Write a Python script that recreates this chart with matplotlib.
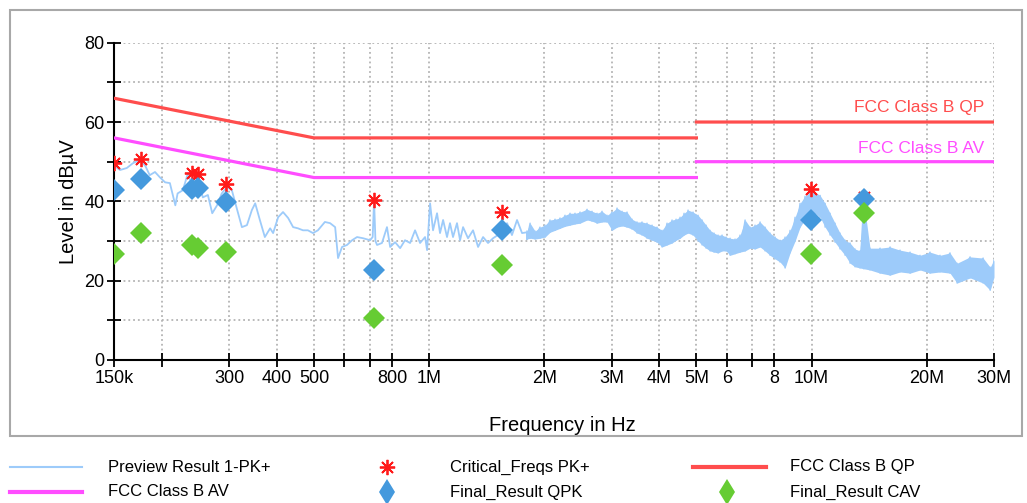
import matplotlib
matplotlib.use("Agg")
import matplotlib.pyplot as plt
import numpy as np
from matplotlib.lines import Line2D
from matplotlib.patches import Rectangle

plt.rcParams['font.family'] = ['Liberation Sans', 'DejaVu Sans']

# preview scan, 150k .. 1.8M (single trace), frequency in MHz, level in dBuV
scan_f = [0.150, 0.1555, 0.162, 0.168, 0.175, 0.181, 0.186, 0.192, 0.198, 0.204,
          0.210, 0.217, 0.220, 0.227, 0.234, 0.241, 0.249, 0.256, 0.264, 0.271,
          0.279, 0.287, 0.296, 0.305, 0.315, 0.324, 0.334, 0.344, 0.351, 0.361,
          0.372, 0.384, 0.391, 0.403, 0.415, 0.428, 0.441, 0.454, 0.468, 0.482,
          0.497, 0.512, 0.534, 0.551, 0.568, 0.578, 0.592, 0.610, 0.629, 0.648,
          0.672, 0.701, 0.712, 0.718, 0.724, 0.731, 0.753, 0.776, 0.791, 0.815,
          0.840, 0.865, 0.892, 0.919, 0.947, 0.976, 0.988, 1.006, 1.024, 1.049,
          1.068, 1.088, 1.114, 1.134, 1.155, 1.183, 1.205, 1.227, 1.264, 1.303,
          1.343, 1.384, 1.426, 1.470, 1.551, 1.599, 1.647, 1.698, 1.750, 1.803]
scan_lvl = [49.0, 47.9, 48.4, 49.6, 50.4, 49.0, 46.6, 47.4, 46.0, 44.8,
            44.6, 39.0, 42.0, 42.8, 47.0, 43.6, 46.0, 41.0, 41.6, 37.0,
            39.0, 42.0, 43.6, 42.8, 37.8, 33.5, 34.0, 37.8, 39.5, 35.3,
            31.0, 33.2, 32.0, 36.0, 37.3, 35.8, 33.5, 33.2, 32.7, 32.7,
            32.0, 32.7, 34.8, 34.5, 33.5, 25.7, 28.5, 29.0, 30.2, 31.0,
            30.7, 30.2, 31.0, 40.3, 30.0, 29.0, 29.5, 33.5, 28.5, 29.7,
            28.2, 30.2, 29.5, 32.7, 29.5, 31.0, 27.7, 39.5, 32.7, 37.0,
            32.0, 35.3, 31.0, 34.5, 31.0, 34.5, 30.2, 33.5, 30.7, 32.7,
            28.5, 31.0, 29.5, 30.7, 32.2, 34.5, 31.5, 35.3, 32.0, 32.2]

# preview scan, 1.8M .. 30M (dense band: upper / lower envelope)
band_f = [1.803, 1.837, 1.893, 1.950, 2.010, 2.071, 2.135, 2.200, 2.267, 2.337,
          2.408, 2.482, 2.589, 2.667, 2.749, 2.833, 2.919, 3.009, 3.101, 3.196,
          3.293, 3.394, 3.497, 3.604, 3.714, 3.828, 3.945, 4.065, 4.190, 4.318,
          4.424, 4.532, 4.642, 4.755, 4.900, 5.050, 5.173, 5.300, 5.429, 5.561,
          5.697, 5.835, 5.978, 6.124, 6.311, 6.504, 6.703, 6.907, 7.118, 7.336,
          7.560, 7.791, 8.029, 8.274, 8.527, 8.788, 9.057, 9.333, 9.618, 9.912,
          10.21, 10.53, 10.85, 11.18, 11.52, 11.87, 12.24, 12.61, 12.99, 13.39,
          13.70, 14.22, 15.11, 16.05, 17.04, 18.10, 19.22, 20.41, 21.68, 23.02,
          24.02, 25.98, 28.10, 29.31, 30.0]
band_hi = [32.5, 34.5, 32.5, 33.5, 34.0, 35.3, 35.5, 35.8, 36.5, 37.0,
           37.0, 37.3, 38.0, 37.5, 37.0, 37.5, 36.5, 37.3, 38.3, 37.5,
           37.3, 35.5, 34.8, 34.8, 34.5, 34.0, 33.5, 32.7, 34.5, 35.3,
           35.5, 36.0, 37.0, 37.8, 37.3, 36.5, 35.3, 34.0, 32.7, 32.0,
           31.5, 31.5, 31.0, 30.7, 30.5, 31.5, 35.3, 33.5, 34.0, 34.8,
           33.5, 32.0, 31.0, 30.2, 31.0, 32.7, 36.0, 39.5, 41.3, 42.3,
           42.3, 41.5, 39.5, 37.0, 34.5, 32.0, 30.2, 29.5, 28.0, 27.5,
           40.0, 28.2, 28.2, 28.5, 27.7, 27.2, 26.4, 27.2, 26.4, 27.0,
           24.4, 26.0, 25.7, 23.4, 25.2]
band_lo = [30.5, 30.7, 30.5, 30.7, 31.0, 32.2, 32.7, 33.2, 33.7, 34.0,
           34.3, 34.5, 35.3, 35.0, 34.5, 34.8, 34.8, 32.7, 33.5, 33.8,
           33.5, 33.0, 32.0, 31.5, 30.7, 30.2, 29.7, 28.5, 29.0, 29.5,
           30.2, 30.7, 31.5, 32.0, 31.5, 30.0, 29.0, 28.2, 27.5, 27.2,
           27.0, 27.5, 27.5, 26.4, 26.8, 27.2, 27.5, 28.2, 28.0, 28.5,
           27.5, 26.4, 25.5, 24.7, 23.2, 27.0, 30.0, 33.5, 35.5, 37.0,
           37.0, 36.0, 33.5, 31.5, 29.7, 28.0, 26.4, 24.4, 23.5, 23.2,
           23.0, 22.7, 21.9, 21.4, 22.2, 21.9, 22.7, 21.9, 22.2, 21.9,
           19.4, 20.7, 19.4, 17.6, 20.9]

# limit lines (segments, gap at 5 MHz)
qp_f = [0.15, 0.5, 5.0, np.nan, 5.0, 30.0]
qp_lvl = [66, 56, 56, np.nan, 60, 60]
av_f = [0.15, 0.5, 5.0, np.nan, 5.0, 30.0]
av_lvl = [56, 46, 46, np.nan, 50, 50]

# final measurement
crit_f = [0.150, 0.176, 0.240, 0.248, 0.294, 0.718, 1.55, 9.95, 13.7]
crit_pk = [49.6, 50.8, 47.1, 46.8, 44.3, 40.3, 37.4, 43.2, 41.0]
final_qpk = [42.9, 45.6, 43.0, 43.4, 39.9, 22.6, 32.8, 35.4, 40.5]
final_cav = [26.8, 32.0, 29.0, 28.3, 27.2, 10.7, 23.9, 26.7, 37.0]

xticks = [0.15, 0.2, 0.3, 0.4, 0.5, 0.6, 0.7, 0.8, 1, 2, 3, 4, 5, 6, 7, 8, 10, 20, 30]
xlabels = ['150k', '', '300', '400', '500', '', '', '800', '1M', '2M', '3M', '4M',
           '5M', '6', '', '8', '10M', '20M', '30M']

c_trace = '#9dcbfa'
c_qp = '#ff4d4d'
c_av = '#ff4dff'
c_crit = '#ff1a1a'
c_qpk = '#4499dd'
c_cav = '#66cc33'

W, H = 1027, 503
fig = plt.figure(figsize=(W / 100, H / 100), dpi=100)
ax = fig.add_axes([114 / W, 1 - 360 / H, (994 - 114) / W, (360 - 42.7) / H])

ax.plot(scan_f + band_f[:1], scan_lvl + band_lo[:1], color=c_trace, lw=1.3, zorder=2)
ax.fill_between(band_f, band_lo, band_hi, color=c_trace, lw=0, zorder=2)
zig_f = np.repeat(band_f, 2)
zig_l = np.column_stack((band_hi, band_lo)).ravel()
ax.plot(zig_f, zig_l, color=c_trace, lw=1.0, zorder=2)

ax.plot(qp_f, qp_lvl, color=c_qp, lw=2.3, zorder=3)
ax.plot(av_f, av_lvl, color=c_av, lw=2.3, zorder=3)
ax.text(28.3, 63.6, 'FCC Class B QP', color=c_qp, fontsize=12.5, ha='right', va='center')
ax.text(28.3, 53.4, 'FCC Class B AV', color=c_av, fontsize=12.5, ha='right', va='center')

ax.plot(crit_f, crit_pk, ls='none', marker=(8, 2, 0), ms=11, mew=1.3, color=c_crit, zorder=4)
ax.plot(crit_f, final_qpk, ls='none', marker='D', ms=11, mew=0, color=c_qpk, zorder=5)
ax.plot(crit_f, final_cav, ls='none', marker='D', ms=11, mew=0, color=c_cav, zorder=5)

ax.set_xscale('log')
ax.set_xlim(0.15, 30)
ax.set_ylim(0, 80)
ax.xaxis.set_minor_locator(matplotlib.ticker.NullLocator())
ax.set_xticks(xticks)
ax.set_xticklabels(xlabels)
ax.set_yticks(range(0, 81, 10))
ax.set_yticklabels(['0', '', '20', '', '40', '', '60', '', '80'])
ax.tick_params(direction='inout', length=10, width=1.3, labelsize=13, pad=2)
ax.grid(True, color='#b4b4b4', ls=':', lw=1.3)
for s in ['top', 'right']:
    ax.spines[s].set_visible(False)
for s in ['left', 'bottom']:
    ax.spines[s].set_linewidth(1.5)
ax.set_xlabel('Frequency in Hz', fontsize=14.5)
ax.set_ylabel('Level in dBµV', fontsize=14.5, labelpad=4)
ax.xaxis.set_label_coords(0.51, -0.175)

# outer frame
fig.add_artist(Rectangle((10 / W, 1 - 436 / H), 1012 / W, 426 / H, transform=fig.transFigure,
                         fill=False, edgecolor='#a8a8a8', lw=1.5))

# legend drawn by hand to follow the original layout
def fx(px):
    return px / W

def fy(py):
    return 1 - py / H

rows = [467, 492]
legend_items = [
    ('line', c_trace, 1.5, 10, 82, 108, 'Preview Result 1-PK+', 0),
    ('line', c_av, 3, 10, 82, 108, 'FCC Class B AV', 1),
    ('crit', c_crit, 0, 387, 387, 450, 'Critical_Freqs PK+', 0),
    ('D', c_qpk, 0, 387, 387, 450, 'Final_Result QPK', 1),
    ('line', c_qp, 3, 693, 766, 790, 'FCC Class B QP', 0),
    ('D', c_cav, 0, 727, 727, 790, 'Final_Result CAV', 1),
]
for kind, col, lw, x0, x1, xt, label, r in legend_items:
    y = fy(rows[r])
    if kind == 'line':
        fig.add_artist(Line2D([fx(x0), fx(x1)], [y, y], color=col, lw=lw, transform=fig.transFigure))
    elif kind == 'crit':
        fig.add_artist(Line2D([fx(x0)], [y], ls='none', marker=(8, 2, 0), ms=11, mew=1.3,
                              color=col, transform=fig.transFigure))
    else:
        fig.add_artist(Line2D([fx(x0)], [y], ls='none', marker='d', ms=13, mew=0,
                              color=col, transform=fig.transFigure))
    fig.text(fx(xt), y, label, fontsize=12, va='center', ha='left')

fig.savefig('out.png', dpi=100)
